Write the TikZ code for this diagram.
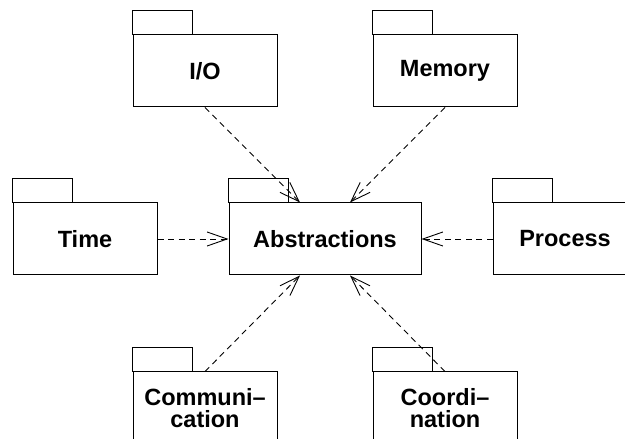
\documentclass[tikz,border=0pt]{standalone}
\usepackage{fontspec}
\setmainfont{Liberation Sans}
\usetikzlibrary{arrows.meta}
\begin{document}
\begin{tikzpicture}[x=1pt,y=1pt,
  pkg/.style={draw,line width=1pt,minimum width=144pt,minimum height=72pt,inner sep=0pt,
    font=\fontsize{23.5}{22}\selectfont\bfseries,align=center},
  tab/.style={draw,line width=1pt},
  dep/.style={line width=0.9pt,dash pattern=on 6pt off 4.5pt,
    -{Straight Barb[length=20pt,width=14pt,line width=0.9pt]}}]
\useasboundingbox (0,0) rectangle (625,439);
% packages
\node[pkg] (io)   at (205,368) {I/O};
\node[pkg] (mem)  at (445,368) {Memory};
\node[pkg] (time) at (85,200) {Time};
\node[pkg,minimum width=192pt] (abs) at (325,200) {Abstractions};
\node[pkg] (proc) at (565,200) {Process};
\node[pkg] (comm) at (205,31) {Communi–\\cation};
\node[pkg] (coord) at (445,31) {Coordi–\\nation};
% tabs
\foreach \n in {io,mem,time,abs,proc,comm,coord}
  \draw[tab] (\n.north west) rectangle ++(60,24);
% dependencies
\draw[dep] (io.south) -- ([xshift=-25pt]abs.north);
\draw[dep] (mem.south) -- ([xshift=25pt]abs.north);
\draw[dep] (time.east) -- (abs.west);
\draw[dep] (proc.west) -- (abs.east);
\draw[dep] (comm.north) -- ([xshift=-25pt]abs.south);
\draw[dep] (coord.north) -- ([xshift=25pt]abs.south);
\end{tikzpicture}
\end{document}
